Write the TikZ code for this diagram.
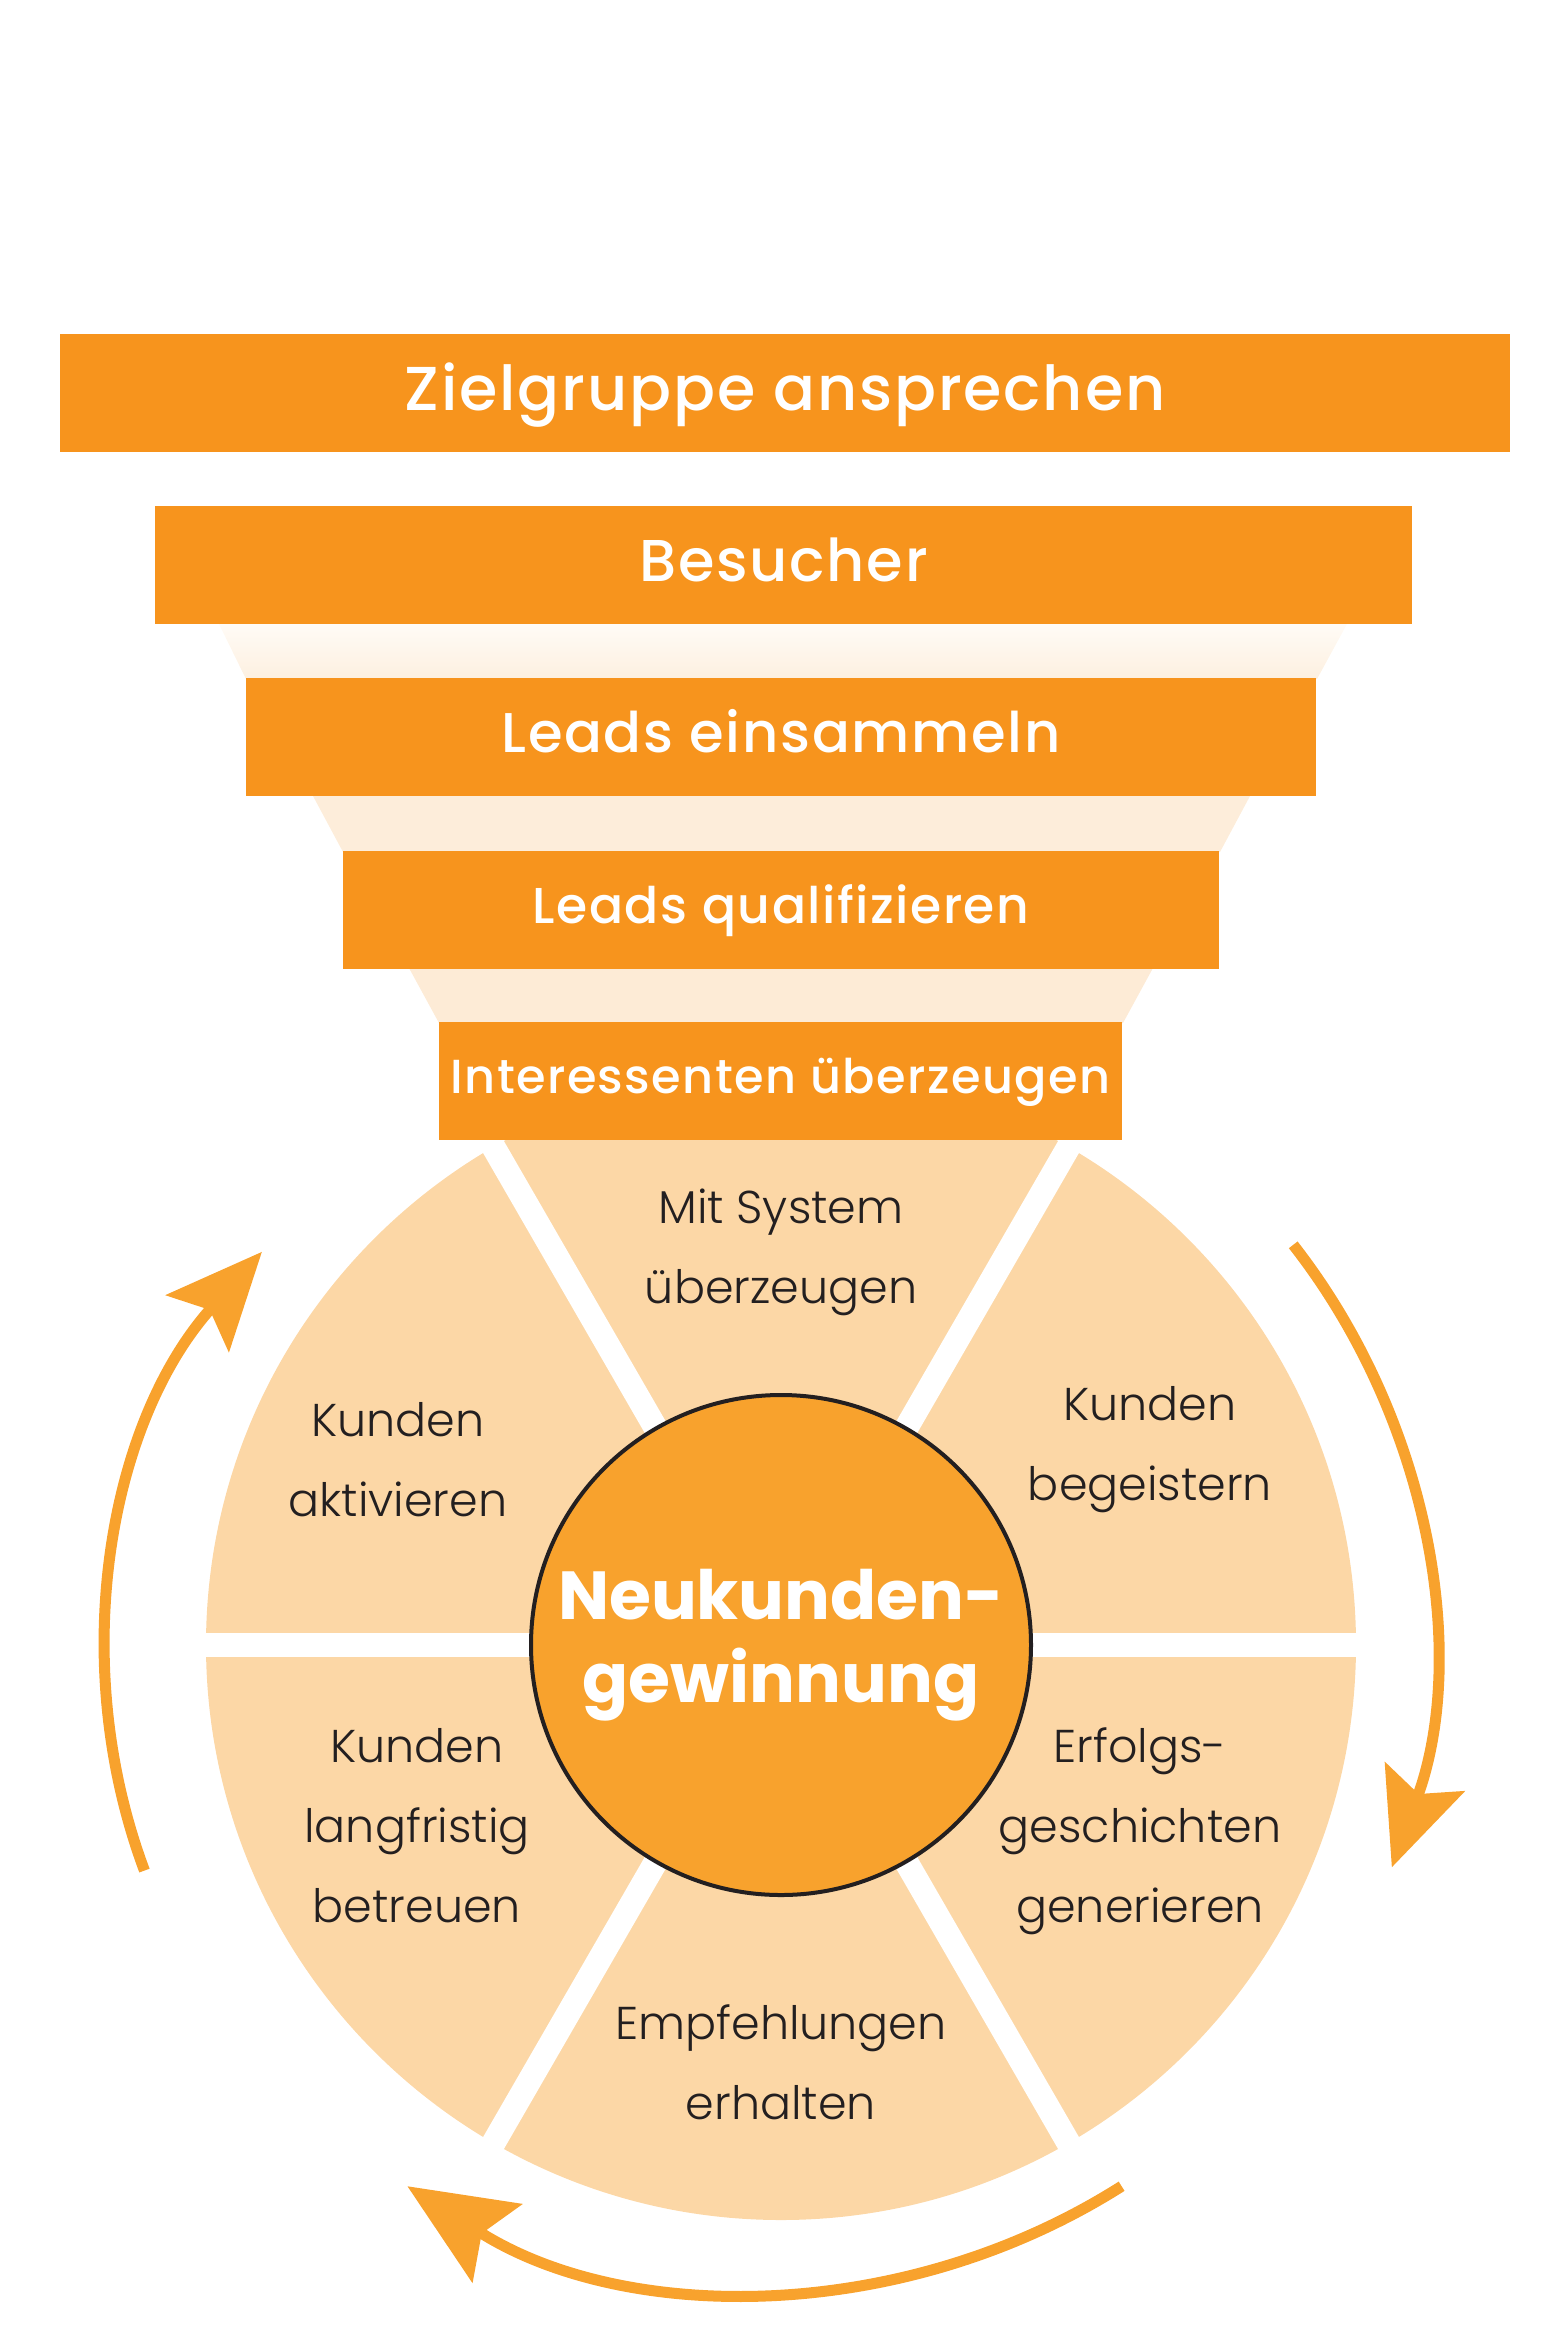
\documentclass[tikz,border=0pt]{standalone}
\usepackage{fontspec}
\setmainfont{Poppins}
\newfontfamily\medfont{Poppins Medium}[LetterSpace=3]
\newfontfamily\litefont{Poppins Light}
\usetikzlibrary{arrows.meta}

\definecolor{barorange}{HTML}{F7941D}
\definecolor{huborange}{HTML}{F8A22D}
\definecolor{wedgefill}{HTML}{FCD7A6}
\definecolor{ink}{HTML}{231F20}
\definecolor{funnelA}{HTML}{FFFBF6}
\definecolor{funnelB}{HTML}{FDF0E0}
\definecolor{funnelC}{HTML}{FDEDDA}
\definecolor{funnelD}{HTML}{FDEBD6}

\tikzset{
  bar/.style={fill=barorange, text=white, inner sep=0pt, minimum height=59pt,
    font=\medfont\fontsize{#1}{#1}\selectfont, text height=0.7*#1, text depth=4pt},
  wedgetext/.style={text=ink, align=center, anchor=base,
    font=\litefont\fontsize{23}{40}\selectfont},
  gapline/.style={white, line width=12pt},
  cyclearrow/.style={draw=huborange, line width=5.5pt,
    -{Stealth[length=48pt,width=42pt,inset=9pt]}}
}

\begin{document}
\begin{tikzpicture}[x=0.5pt,y=0.5pt]
\useasboundingbox (0,0) rectangle (1564,-2339);

\coordinate (c) at (781,-1645);

% -- funnel between the bars
\shade[top color=funnelA,bottom color=funnelB] (219,-624) -- (1347,-624) -- (1317,-679) -- (246,-679) -- cycle;
\fill[funnelC] (313,-796) -- (1250,-796) -- (1220,-852) -- (343,-852) -- cycle;
\fill[funnelD] (409,-968) -- (1153,-968) -- (1123,-1023) -- (439,-1023) -- cycle;

% -- wheel
\fill[wedgefill] (c) circle (575);
\foreach \a in {0,60,...,300}
  \draw[gapline] (c) -- ++(\a:600);

% -- funnel bars
\node[bar=31pt, minimum width=725pt] (zielgruppe) at (785,-393) {Zielgruppe ansprechen};
\node[bar=29.5pt, minimum width=628.5pt] (besucher) at (783.5,-565) {Besucher};
\node[bar=28pt, minimum width=535pt] (einsammeln) at (781,-737) {Leads einsammeln};
\node[bar=25.2pt, minimum width=438pt] (qualifizieren) at (781,-910) {Leads qualifizieren};
\node[bar=23.9pt, minimum width=341.5pt] (interessenten) at (780.5,-1081) {Interessenten überzeugen};

% -- hub
\node[circle, draw=ink, line width=2pt, fill=huborange, minimum size=250pt, inner sep=0pt,
  text=white, align=center, font=\bfseries\fontsize{34}{41.5}\selectfont] (hub) at (c) {Neukunden-\\gewinnung};

% -- wedge labels (placed at the last line)
\node[wedgetext] (system) at (781,-1303) {Mit System\\überzeugen};
\node[wedgetext] (begeistern) at (1150,-1500) {Kunden\\begeistern};
\node[wedgetext] (erfolg) at (1140,-1922) {Erfolgs-\\geschichten\\generieren};
\node[wedgetext] (empfehlung) at (781,-2119) {Empfehlungen\\erhalten};
\node[wedgetext] (betreuen) at (417,-1922) {Kunden\\langfristig\\betreuen};
\node[wedgetext] (aktivieren) at (398,-1516) {Kunden\\aktivieren};

% -- cycle arrows
\coordinate (cl) at (713,-1658);
\coordinate (cb) at (764.5,-1623.5);
\draw[cyclearrow] ([shift={(38:650)}]c) arc[start angle=38, end angle=-20, radius=650];
\draw[cyclearrow, -{Stealth[length=53pt,width=46pt,inset=9pt]}] ([shift={(-57.6:666.5)}]cb) arc[start angle=-57.6, end angle=-122.4, radius=666.5];
\draw[cyclearrow] ([shift={(200.5:607)}]cl) arc[start angle=200.5, end angle=138, radius=607];
\end{tikzpicture}
\end{document}
